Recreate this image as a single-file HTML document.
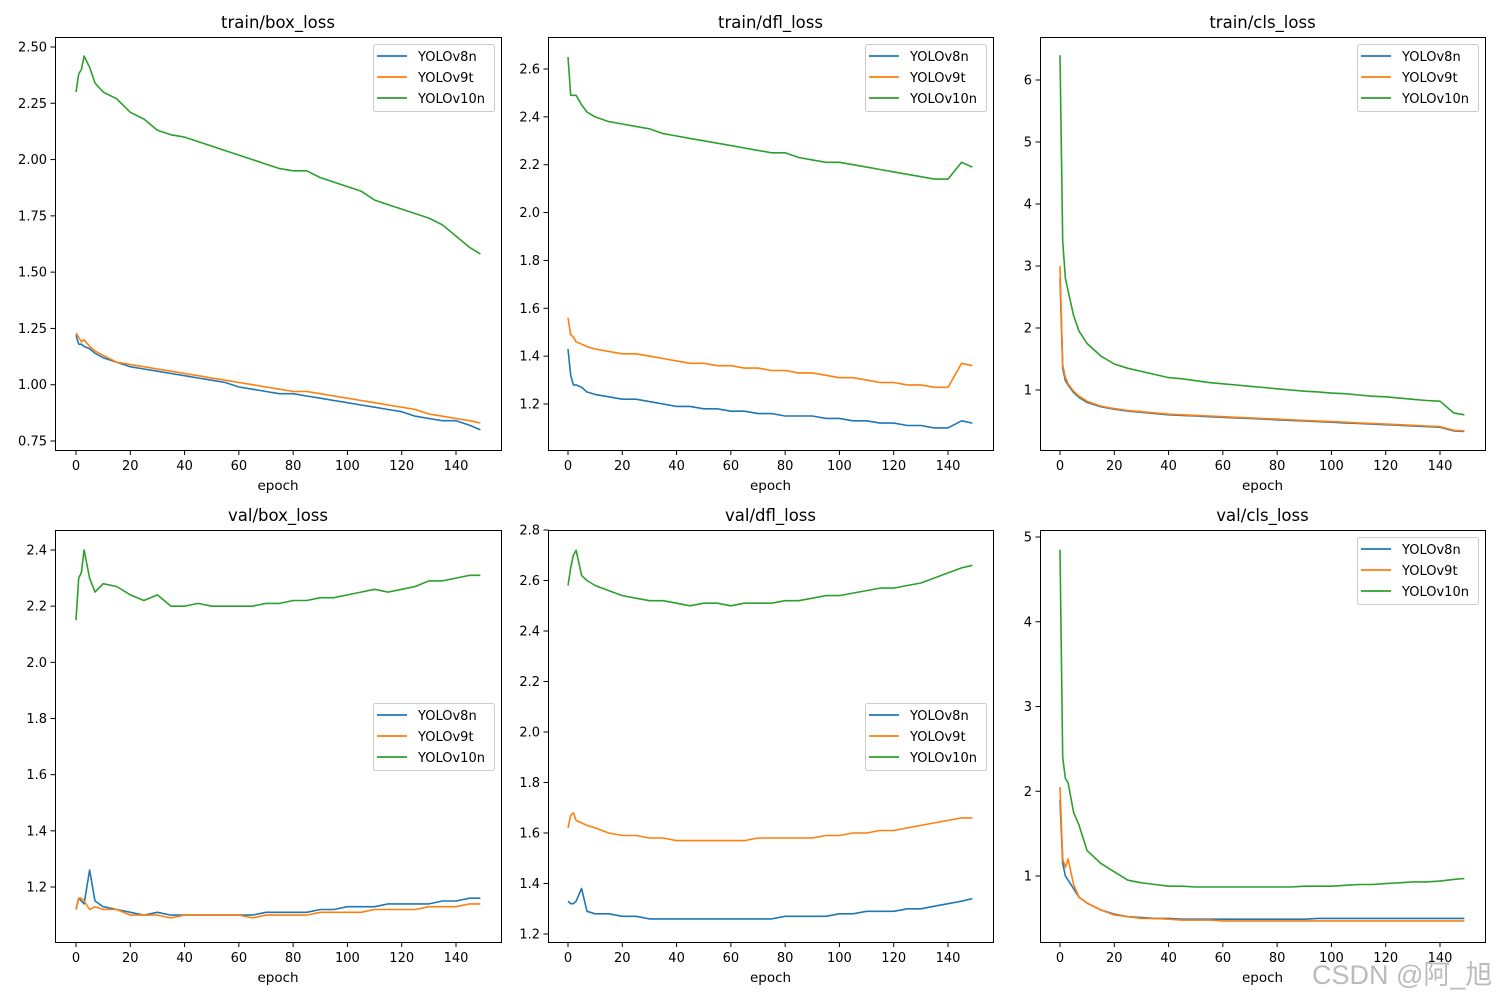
<!DOCTYPE html>
<html><head><meta charset="utf-8">
<style>
html,body{margin:0;padding:0;background:#fff;}
svg{display:block;font-family:"DejaVu Sans","Liberation Sans","Noto Sans CJK SC",sans-serif;}
</style></head>
<body>
<svg id="chart" width="1500" height="1000" viewBox="0 0 1500 1000" xmlns="http://www.w3.org/2000/svg"></svg>
<script>
const epochs = [0,1,2,3,5,7,10,15,20,25,30,35,40,45,50,55,60,65,70,75,80,85,90,95,100,105,110,115,120,125,130,135,140,145,149];
const seriesNames = ["YOLOv8n","YOLOv9t","YOLOv10n"];
const xTicks = [0,20,40,60,80,100,120,140];

const trainBoxV8 = [1.22,1.18,1.18,1.17,1.16,1.14,1.12,1.10,1.08,1.07,1.06,1.05,1.04,1.03,1.02,1.01,0.99,0.98,0.97,0.96,0.96,0.95,0.94,0.93,0.92,0.91,0.90,0.89,0.88,0.86,0.85,0.84,0.84,0.82,0.80];
const trainBoxV9 = [1.23,1.21,1.19,1.20,1.17,1.15,1.13,1.10,1.09,1.08,1.07,1.06,1.05,1.04,1.03,1.02,1.01,1.00,0.99,0.98,0.97,0.97,0.96,0.95,0.94,0.93,0.92,0.91,0.90,0.89,0.87,0.86,0.85,0.84,0.83];
const trainBoxV10 = [2.30,2.38,2.40,2.46,2.41,2.34,2.30,2.27,2.21,2.18,2.13,2.11,2.10,2.08,2.06,2.04,2.02,2.00,1.98,1.96,1.95,1.95,1.92,1.90,1.88,1.86,1.82,1.80,1.78,1.76,1.74,1.71,1.66,1.61,1.58];

const trainDflV8 = [1.43,1.32,1.28,1.28,1.27,1.25,1.24,1.23,1.22,1.22,1.21,1.20,1.19,1.19,1.18,1.18,1.17,1.17,1.16,1.16,1.15,1.15,1.15,1.14,1.14,1.13,1.13,1.12,1.12,1.11,1.11,1.10,1.10,1.13,1.12];
const trainDflV9 = [1.56,1.49,1.48,1.46,1.45,1.44,1.43,1.42,1.41,1.41,1.40,1.39,1.38,1.37,1.37,1.36,1.36,1.35,1.35,1.34,1.34,1.33,1.33,1.32,1.31,1.31,1.30,1.29,1.29,1.28,1.28,1.27,1.27,1.37,1.36];
const trainDflV10 = [2.65,2.49,2.49,2.49,2.45,2.42,2.40,2.38,2.37,2.36,2.35,2.33,2.32,2.31,2.30,2.29,2.28,2.27,2.26,2.25,2.25,2.23,2.22,2.21,2.21,2.20,2.19,2.18,2.17,2.16,2.15,2.14,2.14,2.21,2.19];

const trainClsV8 = [2.8,1.35,1.15,1.08,0.96,0.88,0.8,0.73,0.69,0.66,0.64,0.62,0.6,0.59,0.58,0.57,0.56,0.55,0.54,0.53,0.52,0.51,0.5,0.49,0.48,0.47,0.46,0.45,0.44,0.43,0.42,0.41,0.4,0.34,0.33];
const trainClsV9 = [3.0,1.4,1.2,1.1,0.98,0.9,0.82,0.74,0.7,0.67,0.65,0.63,0.61,0.6,0.59,0.58,0.57,0.56,0.55,0.54,0.53,0.52,0.51,0.5,0.49,0.48,0.47,0.46,0.45,0.44,0.43,0.42,0.41,0.35,0.34];
const trainClsV10 = [6.4,3.4,2.8,2.6,2.2,1.95,1.75,1.55,1.42,1.35,1.30,1.25,1.2,1.18,1.15,1.12,1.1,1.08,1.06,1.04,1.02,1.0,0.98,0.97,0.95,0.94,0.92,0.9,0.89,0.87,0.85,0.83,0.82,0.63,0.6];

const valBoxV8 = [1.12,1.16,1.15,1.14,1.26,1.15,1.13,1.12,1.11,1.10,1.11,1.10,1.10,1.10,1.10,1.10,1.10,1.10,1.11,1.11,1.11,1.11,1.12,1.12,1.13,1.13,1.13,1.14,1.14,1.14,1.14,1.15,1.15,1.16,1.16];
const valBoxV9 = [1.12,1.16,1.16,1.15,1.12,1.13,1.12,1.12,1.10,1.10,1.10,1.09,1.10,1.10,1.10,1.10,1.10,1.09,1.10,1.10,1.10,1.10,1.11,1.11,1.11,1.11,1.12,1.12,1.12,1.12,1.13,1.13,1.13,1.14,1.14];
const valBoxV10 = [2.15,2.30,2.32,2.40,2.30,2.25,2.28,2.27,2.24,2.22,2.24,2.20,2.20,2.21,2.20,2.20,2.20,2.20,2.21,2.21,2.22,2.22,2.23,2.23,2.24,2.25,2.26,2.25,2.26,2.27,2.29,2.29,2.30,2.31,2.31];

const valDflV8 = [1.33,1.32,1.32,1.33,1.38,1.29,1.28,1.28,1.27,1.27,1.26,1.26,1.26,1.26,1.26,1.26,1.26,1.26,1.26,1.26,1.27,1.27,1.27,1.27,1.28,1.28,1.29,1.29,1.29,1.30,1.30,1.31,1.32,1.33,1.34];
const valDflV9 = [1.62,1.67,1.68,1.65,1.64,1.63,1.62,1.60,1.59,1.59,1.58,1.58,1.57,1.57,1.57,1.57,1.57,1.57,1.58,1.58,1.58,1.58,1.58,1.59,1.59,1.60,1.60,1.61,1.61,1.62,1.63,1.64,1.65,1.66,1.66];
const valDflV10 = [2.58,2.65,2.70,2.72,2.62,2.60,2.58,2.56,2.54,2.53,2.52,2.52,2.51,2.50,2.51,2.51,2.50,2.51,2.51,2.51,2.52,2.52,2.53,2.54,2.54,2.55,2.56,2.57,2.57,2.58,2.59,2.61,2.63,2.65,2.66];

const valClsV8 = [1.9,1.15,1.0,0.95,0.85,0.75,0.68,0.6,0.55,0.52,0.51,0.5,0.5,0.49,0.49,0.49,0.49,0.49,0.49,0.49,0.49,0.49,0.49,0.5,0.5,0.5,0.5,0.5,0.5,0.5,0.5,0.5,0.5,0.5,0.5];
const valClsV9 = [2.05,1.2,1.1,1.2,0.9,0.75,0.68,0.6,0.54,0.52,0.5,0.5,0.49,0.48,0.48,0.48,0.47,0.47,0.47,0.47,0.47,0.47,0.47,0.47,0.47,0.47,0.47,0.47,0.47,0.47,0.47,0.47,0.47,0.47,0.47];
const valClsV10 = [4.85,2.4,2.15,2.1,1.75,1.6,1.3,1.15,1.05,0.95,0.92,0.9,0.88,0.88,0.87,0.87,0.87,0.87,0.87,0.87,0.87,0.87,0.88,0.88,0.88,0.89,0.9,0.9,0.91,0.92,0.93,0.93,0.94,0.96,0.97];

const ticksBox1 = [0.75,1.00,1.25,1.50,1.75,2.00,2.25,2.50];
const ticksDfl1 = [1.2,1.4,1.6,1.8,2.0,2.2,2.4,2.6];
const ticksCls1 = [1,2,3,4,5,6];
const ticksBox2 = [1.2,1.4,1.6,1.8,2.0,2.2,2.4];
const ticksDfl2 = [1.2,1.4,1.6,1.8,2.0,2.2,2.4,2.6,2.8];
const ticksCls2 = [1,2,3,4,5];

const colors = ["#1f77b4","#ff7f0e","#2ca02c"];
const NS = "http://www.w3.org/2000/svg";
const svg = document.getElementById("chart");

function mk(tag, attrs, parent){
  const e = document.createElementNS(NS, tag);
  for (const k in attrs) e.setAttribute(k, attrs[k]);
  (parent||svg).appendChild(e);
  return e;
}

const panels = [
  {title:"train/box_loss", key:"train-box-loss", x0:55,x1:501,y0:37,y1:450, xa:76, v0:0.75,p0:441,v1:2.50,p1:47, ticks:ticksBox1, dec:2, data:[trainBoxV8,trainBoxV9,trainBoxV10], legend:"top"},
  {title:"train/dfl_loss", key:"train-dfl-loss", x0:548,x1:993,y0:37,y1:450, xa:568, v0:1.2,p0:404,v1:2.6,p1:69, ticks:ticksDfl1, dec:1, data:[trainDflV8,trainDflV9,trainDflV10], legend:"top"},
  {title:"train/cls_loss", key:"train-cls-loss", x0:1040,x1:1485,y0:37,y1:450, xa:1060, v0:1,p0:390,v1:6,p1:80, ticks:ticksCls1, dec:0, data:[trainClsV8,trainClsV9,trainClsV10], legend:"top"},
  {title:"val/box_loss", key:"val-box-loss", x0:55,x1:501,y0:530,y1:942, xa:76, v0:1.2,p0:887,v1:2.4,p1:550, ticks:ticksBox2, dec:1, data:[valBoxV8,valBoxV9,valBoxV10], legend:"mid"},
  {title:"val/dfl_loss", key:"val-dfl-loss", x0:548,x1:993,y0:530,y1:942, xa:568, v0:1.2,p0:934,v1:2.8,p1:530, ticks:ticksDfl2, dec:1, data:[valDflV8,valDflV9,valDflV10], legend:"mid"},
  {title:"val/cls_loss", key:"val-cls-loss", x0:1040,x1:1485,y0:530,y1:942, xa:1060, v0:1,p0:876,v1:5,p1:537, ticks:ticksCls2, dec:0, data:[valClsV8,valClsV9,valClsV10], legend:"top"}
];

panels.forEach(function(P){
  const g = mk("g", {});
  
  
  const xs = function(e){ return P.xa + e * (380/140); };
  const ys = function(v){ return P.p0 + (v - P.v0) * (P.p1 - P.p0) / (P.v1 - P.v0); };

  const t = mk("text", {x:(P.x0+P.x1)/2, y:P.y0-9, "text-anchor":"middle", "font-size":"16.5", fill:"#000"}, g);
  t.textContent = P.title;
  
  

  P.data.forEach(function(arr, si){
    let d = "";
    arr.forEach(function(v, i){ d += (i ? "L" : "M") + xs(epochs[i]).toFixed(1) + "," + ys(v).toFixed(1); });
    const p = mk("path", {d:d, fill:"none", stroke:colors[si], "stroke-width":"1.6", "stroke-linejoin":"round"}, g);
    
    
  });

  const fr = mk("rect", {x:P.x0+0.5, y:P.y0+0.5, width:P.x1-P.x0, height:P.y1-P.y0, fill:"none", stroke:"#000", "stroke-width":"1"}, g);
  
  

  xTicks.forEach(function(e){
    const x = xs(e);
    mk("line", {x1:x, x2:x, y1:P.y1+0.5, y2:P.y1+5, stroke:"#000", "stroke-width":"1"}, g);
    const tl = mk("text", {x:x, y:P.y1+20, "text-anchor":"middle", "font-size":"13", fill:"#000"}, g);
    tl.textContent = e;
    
    
  });
  const xl = mk("text", {x:(P.x0+P.x1)/2, y:P.y1+40, "text-anchor":"middle", "font-size":"13.5", fill:"#000"}, g);
  xl.textContent = "epoch";
  
  

  P.ticks.forEach(function(v){
    const y = ys(v);
    mk("line", {x1:P.x0-4.5, x2:P.x0+0.5, y1:y, y2:y, stroke:"#000", "stroke-width":"1"}, g);
    const tl = mk("text", {x:P.x0-8, y:y+4.5, "text-anchor":"end", "font-size":"13", fill:"#000"}, g);
    tl.textContent = v.toFixed(P.dec);
    
    
  });

  const lx = P.x1 - 128, ly = P.legend === "top" ? P.y0 + 7 : P.y0 + 173;
  const lg = mk("g", {}, g);
  
  
  mk("rect", {x:lx+0.5, y:ly+0.5, width:121, height:67, rx:2, fill:"#fff", "fill-opacity":"0.8", stroke:"#ccc", "stroke-width":"1"}, lg);
  seriesNames.forEach(function(n, si){
    const yy = ly + 12 + si*21;
    const ll = mk("line", {x1:lx+4, x2:lx+34, y1:yy, y2:yy, stroke:colors[si], "stroke-width":"1.8"}, lg);
    
    
    const lt = mk("text", {x:lx+45, y:yy+5, "font-size":"13", fill:"#000"}, lg);
    lt.textContent = n;
    
    
  });
});

const wm = mk("text", {x:1312, y:984, "font-size":"27", fill:"#bbb", "font-family":"\"Liberation Sans\",\"Noto Sans CJK SC\",sans-serif"});
wm.textContent = "CSDN @阿_旭";


</script>
</body></html>
